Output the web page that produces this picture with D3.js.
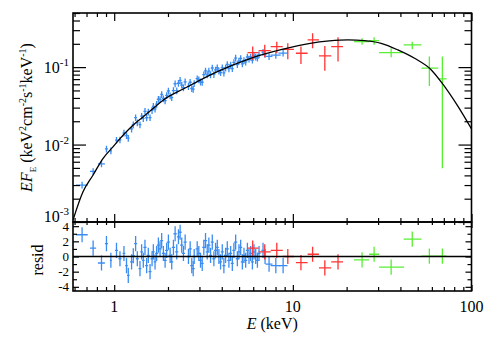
<!DOCTYPE html>
<html>
<head>
<meta charset="utf-8">
<script src="https://cdn.jsdelivr.net/npm/d3@7"></script>
<style>
body { margin: 0; background: #fff; }
text { font-family: "Liberation Serif", "Times New Roman", serif; fill: #000; }
</style>
</head>
<body>
<script>
//Width and height
const w = 491;
const h = 343;

//Model curve (keV, keV2 cm-2 s-1 keV-1)
const modelE = [0.588, 0.669, 0.762, 0.867, 0.987, 1.124, 1.279, 1.455, 1.656, 1.885, 2.45, 3.78, 5.81, 8.7, 12.5, 16.0, 20.3, 25.2, 31.2, 38.7, 48.0, 59.6, 67.8, 84.2, 102];
const modelF = [0.00106, 0.00246, 0.00405, 0.00665, 0.0094, 0.0133, 0.0179, 0.0229, 0.0294, 0.0377, 0.0525, 0.0875, 0.130, 0.169, 0.203, 0.218, 0.225, 0.220, 0.203, 0.167, 0.130, 0.092, 0.064, 0.0309, 0.0147];

//Blue instrument: [E, dE, flux, dFlux, resid]
const blue = [
  [0.661, 0.05, 0.0030, 0.0003, 2.87], [0.762, 0.03, 0.0045, 0.00045, 1.1], [0.849, 0.038, 0.00564, 0.00056, -0.86],
  [0.905, 0.018, 0.00879, 0.00088, 1.7], [0.958, 0.012, 0.0083, 0.00083, -0.5], [1.030, 0.02, 0.0114, 0.0011, 0.8],
  [1.077, 0.02, 0.0115, 0.0011, -0.3], [1.134, 0.02, 0.0141, 0.0014, 0.4], [1.172, 0.02, 0.0131, 0.0013, -1.2],
  [1.199, 0.02, 0.0121, 0.0012, -2.5], [1.251, 0.025, 0.0159, 0.0016, -0.7], [1.279, 0.025, 0.0181, 0.0018, 0.1],
  [1.318, 0.025, 0.0223, 0.0022, 1.7], [1.347, 0.025, 0.0191, 0.0019, -0.3], [1.394, 0.025, 0.0181, 0.0018, -1.6],
  [1.424, 0.025, 0.0233, 0.0023, 0.6], [1.455, 0.025, 0.0218, 0.0022, -0.5], [1.487, 0.03, 0.0269, 0.0027, 1.2],
  [1.519, 0.03, 0.0222, 0.0022, -1.2], [1.552, 0.03, 0.0264, 0.0026, 0.15], [1.587, 0.03, 0.0223, 0.0022, -2.0],
  [1.629, 0.03, 0.0277, 0.0028, -0.3], [1.656, 0.03, 0.0312, 0.0031, 0.6], [1.693, 0.03, 0.0288, 0.0029, -0.7],
  [1.728, 0.035, 0.0332, 0.0033, 0.4], [1.767, 0.035, 0.0385, 0.0038, 1.5], [1.806, 0.035, 0.0383, 0.0038, 1.0],
  [1.844, 0.035, 0.0443, 0.0044, 2.1], [1.885, 0.035, 0.0392, 0.0039, 0.4], [1.927, 0.04, 0.0369, 0.0037, -0.5],
  [1.967, 0.04, 0.0431, 0.0043, 0.8], [2.011, 0.04, 0.0492, 0.0049, 1.9], [2.056, 0.04, 0.0427, 0.0043, 0.15],
  [2.099, 0.04, 0.0404, 0.0040, -0.7], [2.146, 0.045, 0.0498, 0.0050, 1.2], [2.193, 0.045, 0.0610, 0.0061, 3.0],
  [2.239, 0.045, 0.0497, 0.0050, 0.6], [2.289, 0.045, 0.0619, 0.0062, 2.6], [2.339, 0.045, 0.0675, 0.0068, 3.2],
  [2.388, 0.05, 0.0587, 0.0059, 1.5], [2.441, 0.05, 0.0543, 0.0054, 0.4], [2.495, 0.05, 0.0646, 0.0065, 1.9],
  [2.604, 0.05, 0.0565, 0.0057, 0], [2.662, 0.055, 0.0638, 0.0064, 1.0], [2.718, 0.055, 0.0530, 0.0053, -1.2],
  [2.768, 0.055, 0.0520, 0.0052, -1.6], [2.804, 0.055, 0.0617, 0.0062, 0], [2.915, 0.06, 0.0711, 0.0071, 1.0],
  [2.976, 0.06, 0.0687, 0.0069, 0.4], [3.042, 0.06, 0.0646, 0.0065, -0.5], [3.109, 0.06, 0.0638, 0.0064, -0.9],
  [3.175, 0.065, 0.0800, 0.0080, 1.2], [3.245, 0.065, 0.0895, 0.0090, 2.1], [3.317, 0.065, 0.0796, 0.0080, 0.6],
  [3.387, 0.07, 0.0889, 0.0089, 1.5], [3.462, 0.07, 0.0800, 0.0080, 0.15], [3.540, 0.07, 0.0975, 0.0098, 1.9],
  [3.614, 0.07, 0.0805, 0.0081, -0.3], [3.694, 0.075, 0.0923, 0.0092, 0.8], [3.776, 0.075, 0.0982, 0.0098, 1.2],
  [3.855, 0.075, 0.0891, 0.0089, 0], [3.939, 0.08, 0.0851, 0.0085, -0.7], [4.027, 0.08, 0.0984, 0.0098, 0.6],
  [4.111, 0.08, 0.0843, 0.0084, -1.2], [4.203, 0.085, 0.0979, 0.0098, 0.15], [4.296, 0.085, 0.1086, 0.0109, 1.0],
  [4.386, 0.09, 0.0957, 0.0096, -0.5], [4.484, 0.09, 0.1066, 0.0107, 0.4], [4.583, 0.09, 0.0959, 0.0096, -0.9],
  [4.679, 0.095, 0.1153, 0.0115, 0.8], [4.784, 0.095, 0.1309, 0.0131, 1.9], [4.890, 0.1, 0.1079, 0.0108, -0.3],
  [4.992, 0.1, 0.1199, 0.0120, 0.6], [5.104, 0.1, 0.1297, 0.0130, 1.2], [5.217, 0.105, 0.1104, 0.0110, -0.7],
  [5.327, 0.105, 0.1219, 0.0122, 0.15], [5.445, 0.11, 0.1167, 0.0117, -0.5], [5.566, 0.11, 0.1352, 0.0135, 0.8],
  [5.683, 0.115, 0.1274, 0.0127, 0], [5.808, 0.115, 0.1352, 0.0135, 0.4], [5.937, 0.12, 0.1233, 0.0123, -0.7],
  [6.061, 0.12, 0.1416, 0.0142, 0.6], [6.197, 0.125, 0.1355, 0.0136, 0], [6.334, 0.125, 0.1309, 0.0131, -0.5],
  [6.467, 0.13, 0.1449, 0.0145, 0.4], [6.81, 0.14, 0.156, 0.0156, 0.8], [6.99, 0.14, 0.1466, 0.0147, 0],
  [7.36, 0.33, 0.1377, 0.0138, -1.0], [8.03, 0.52, 0.1429, 0.0143, -1.2], [8.82, 0.52, 0.152, 0.0152, -1.2]
];

//Red and green instruments: [E, Elo, Ehi, flux, fluxLo, fluxHi, resid]
const red = [
  [5.96, 5.58, 6.43, 0.154, 0.124, 0.184, 1.1],
  [6.96, 6.43, 7.52, 0.163, 0.134, 0.194, 0.6],
  [8.13, 7.52, 8.78, 0.184, 0.151, 0.213, 0.8],
  [9.37, 8.78, 10.14, 0.170, 0.126, 0.203, 0],
  [11.1, 10.4, 12.1, 0.151, 0.110, 0.184, -0.8],
  [12.9, 12.1, 14.0, 0.225, 0.175, 0.274, 0.3],
  [15.1, 14.0, 16.4, 0.140, 0.090, 0.188, -1.5],
  [17.9, 16.4, 19.1, 0.184, 0.118, 0.243, -0.7]
];
const green = [
  [24.4, 22.0, 26.7, 0.213, 0.194, 0.236, -0.45],
  [28.5, 26.7, 30.4, 0.220, 0.194, 0.243, 0.3],
  [35.5, 30.4, 41.9, 0.154, 0.134, 0.175, -1.4],
  [46.6, 41.7, 52.5, 0.194, 0.170, 0.213, 2.3],
  [58.1, 52.5, 65.1, 0.0968, 0.0571, 0.137, 0.05],
  [68.7, 65.1, 72.5, 0.0704, 0.00494, 0.137, 0.05]
];

//Tick values
const xMajor = [1, 10, 100];
const xMinor = [0.6, 0.7, 0.8, 0.9, 2, 3, 4, 5, 6, 7, 8, 9, 20, 30, 40, 50, 60, 70, 80, 90];
const yMajor = [0.001, 0.01, 0.1];
const yMajorExp = ["-3", "-2", "-1"];
const yMinor = [0.002, 0.003, 0.004, 0.005, 0.006, 0.007, 0.008, 0.009,
                0.02, 0.03, 0.04, 0.05, 0.06, 0.07, 0.08, 0.09, 0.2, 0.3, 0.4, 0.5];
const rMajor = [-4, -2, 0, 2, 4];
const rMinor = [-3, -1, 1, 3];

const colBlue = "#3a8cf2";
const colRed = "#ff3434";
const colGreen = "#58ee32";

//Panel geometry
const left = 73, right = 471.5, top1 = 13, bot1 = 222, bot2 = 291;

const x = d3.scaleLog().domain([0.588, 100]).range([left, right]);
const yTop = d3.scaleLog().domain([0.001, 0.5]).range([bot1, top1]);
const yRes = d3.scaleLinear().domain([-4.55, 4.55]).range([bot2, bot1]);

const svg = d3.select("body").append("svg")
  .attr("width", w)
  .attr("height", h);

const defs = svg.append("defs");
defs.append("clipPath").attr("id", "clipTop").append("rect")
  .attr("x", left).attr("y", top1).attr("width", right - left).attr("height", bot1 - top1);
defs.append("clipPath").attr("id", "clipRes").append("rect")
  .attr("x", left).attr("y", bot1).attr("width", right - left).attr("height", bot2 - bot1);

const gTop = svg.append("g").attr("clip-path", "url(#clipTop)");
const gRes = svg.append("g").attr("clip-path", "url(#clipRes)");

//Convert rows to a common shape
const blueRows = blue.map(d => ({E: d[0], lo: d[0] - d[1], hi: d[0] + d[1], F: d[2], Flo: d[2] - d[3], Fhi: d[2] + d[3], r: d[4]}));
const toRows = arr => arr.map(d => ({E: d[0], lo: d[1], hi: d[2], F: d[3], Flo: d[4], Fhi: d[5], r: d[6]}));
const sets = [[blueRows, colBlue], [toRows(red), colRed], [toRows(green), colGreen]];

//Error crosses
function crosses(g, rows, color, yScale, yv, ylo, yhi) {
  const s = g.append("g").attr("stroke", color).attr("stroke-width", 1.3).attr("fill", "none");
  s.selectAll(".h").data(rows).enter().append("line")
    .attr("x1", d => x(d.lo)).attr("x2", d => x(d.hi))
    .attr("y1", d => yScale(yv(d))).attr("y2", d => yScale(yv(d)));
  s.selectAll(".v").data(rows).enter().append("line")
    .attr("x1", d => x(d.E)).attr("x2", d => x(d.E))
    .attr("y1", d => yScale(ylo(d))).attr("y2", d => yScale(yhi(d)));
}

sets.forEach(([rows, c]) => {
  crosses(gTop, rows, c, yTop, d => d.F, d => d.Flo, d => d.Fhi);
  crosses(gRes, rows, c, yRes, d => d.r, d => d.r - 1, d => d.r + 1);
});

//Model line
const line = d3.line()
  .x(d => x(d[0]))
  .y(d => yTop(d[1]))
  .curve(d3.curveMonotoneX);
gTop.append("path")
  .datum(d3.zip(modelE, modelF))
  .attr("d", line)
  .attr("fill", "none")
  .attr("stroke", "#000")
  .attr("stroke-width", 1.3);

//Zero line in residual panel
gRes.append("line")
  .attr("x1", left).attr("x2", right)
  .attr("y1", yRes(0)).attr("y2", yRes(0))
  .attr("stroke", "#000").attr("stroke-width", 1.5);

//Ticks (inward on every side)
function ticks(axis, tx, ty, vals, len) {
  svg.append("g")
    .attr("transform", "translate(" + tx + "," + ty + ")")
    .call(axis.tickValues(vals).tickSize(-len).tickFormat(""))
    .call(g => g.select(".domain").remove())
    .call(g => g.selectAll("line").attr("stroke", "#000").attr("stroke-width", 1.2));
}
ticks(d3.axisBottom(x), 0, bot1, xMajor, 8);
ticks(d3.axisBottom(x), 0, bot1, xMinor, 4);
ticks(d3.axisTop(x), 0, top1, xMajor, 8);
ticks(d3.axisTop(x), 0, top1, xMinor, 4);
ticks(d3.axisLeft(yTop), left, 0, yMajor, 13);
ticks(d3.axisLeft(yTop), left, 0, yMinor, 7);
ticks(d3.axisRight(yTop), right, 0, yMajor, 13);
ticks(d3.axisRight(yTop), right, 0, yMinor, 7);

ticks(d3.axisBottom(x), 0, bot2, xMajor, 6);
ticks(d3.axisBottom(x), 0, bot2, xMinor, 4);
ticks(d3.axisTop(x), 0, bot1, xMajor, 6);
ticks(d3.axisTop(x), 0, bot1, xMinor, 3);
ticks(d3.axisLeft(yRes), left, 0, rMajor, 6);
ticks(d3.axisLeft(yRes), left, 0, rMinor, 4);
ticks(d3.axisRight(yRes), right, 0, rMajor, 6);
ticks(d3.axisRight(yRes), right, 0, rMinor, 4);

//Frames
[[top1, bot1], [bot1, bot2]].forEach(([a, b]) => {
  svg.append("rect")
    .attr("x", left).attr("y", a)
    .attr("width", right - left).attr("height", b - a)
    .attr("fill", "none").attr("stroke", "#000").attr("stroke-width", 1.6);
});

//Tick labels (lowest one sits on the panel edge)
yMajor.forEach((v, i) => {
  const t = svg.append("text")
    .attr("x", left - 4).attr("y", yTop(v) + (i === 0 ? 0 : 6))
    .attr("text-anchor", "end")
    .style("font-size", "16px");
  t.append("tspan").text("10");
  t.append("tspan").attr("dy", -7).style("font-size", "11px").text(yMajorExp[i]);
});

svg.selectAll(".rlab").data(rMajor).enter().append("text")
  .attr("x", left - 4).attr("y", d => yRes(d) + 4.5)
  .attr("text-anchor", "end")
  .style("font-size", "13px")
  .text(d => d < 0 ? "-" + Math.abs(d) : d);

svg.selectAll(".xlab").data(xMajor).enter().append("text")
  .attr("x", d => x(d)).attr("y", 312)
  .attr("text-anchor", "middle")
  .style("font-size", "16px")
  .text(d => d);

//Axis titles
const xt = svg.append("text")
  .attr("x", (left + right) / 2).attr("y", 329)
  .attr("text-anchor", "middle")
  .style("font-size", "16px");
xt.append("tspan").style("font-style", "italic").text("E");
xt.append("tspan").text(" (keV)");

const yt = svg.append("text")
  .attr("transform", "translate(32," + ((top1 + bot1) / 2) + ") rotate(-90)")
  .attr("text-anchor", "middle")
  .style("font-size", "16px");
yt.append("tspan").style("font-style", "italic").text("EF");
yt.append("tspan").attr("dy", 4).style("font-size", "9px").text("E");
yt.append("tspan").attr("dy", -4).text(" (keV");
yt.append("tspan").attr("dy", -6).style("font-size", "10px").text("2");
yt.append("tspan").attr("dy", 6).text("cm");
yt.append("tspan").attr("dy", -6).style("font-size", "10px").text("-2");
yt.append("tspan").attr("dy", 6).text("s");
yt.append("tspan").attr("dy", -6).style("font-size", "10px").text("-1");
yt.append("tspan").attr("dy", 6).text("keV");
yt.append("tspan").attr("dy", -6).style("font-size", "10px").text("-1");
yt.append("tspan").attr("dy", 6).text(")");

svg.append("text")
  .attr("transform", "translate(43," + 260 + ") rotate(-90)")
  .attr("text-anchor", "middle")
  .style("font-size", "16px")
  .text("resid");
</script>
</body>
</html>
